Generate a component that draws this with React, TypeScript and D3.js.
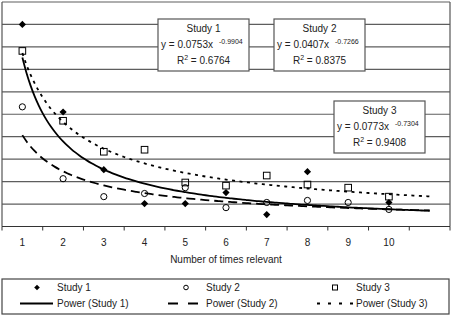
import React from "react";
import * as d3 from "d3";

// Category axis labels (11th slot is unlabeled)
const categories = ["1", "2", "3", "4", "5", "6", "7", "8", "9", "10", ""];

// Observed values per category (null = no observation)
const study1: (number | null)[] = [0.090, 0.051, 0.0253, 0.0102, 0.0102, 0.0151, 0.0053, 0.0244, null, 0.0107];
const study2: (number | null)[] = [0.0533, 0.0213, 0.0133, 0.0147, 0.0173, 0.0084, 0.0107, 0.0116, 0.0107, 0.0076];
const study3: (number | null)[] = [0.0782, 0.0471, 0.0333, 0.0342, 0.0196, 0.0182, 0.0227, 0.0187, 0.0173, 0.0133];

// Power trendlines y = a * x^b
const seriesNames = ["Study 1", "Study 2", "Study 3"];
const fitCoef = [0.0753, 0.0407, 0.0773];
const fitExp = [-0.9904, -0.7266, -0.7304];
const fitR2 = ["0.6764", "0.8375", "0.9408"];

const yGrid = d3.range(0, 11).map((i) => i * 0.01);

const W = 453;
const H = 316;
const FONT = "'Liberation Sans', Arial, sans-serif";

export default function App() {
  const plot = { left: 2, right: 450, top: 2, bottom: 226.5 };
  const n = categories.length;
  const x = d3.scaleLinear().domain([0.5, n + 0.5]).range([plot.left, plot.right]);
  const y = d3.scaleLinear().domain([0, 0.1]).range([plot.bottom, plot.top]);

  const line = d3
    .line<[number, number]>()
    .x((d) => x(d[0]))
    .y((d) => y(d[1]))
    .curve(d3.curveMonotoneX);

  const trend = (k: number) =>
    line(d3.range(1, n + 0.001, 0.1).map((v) => [v, fitCoef[k] * Math.pow(v, fitExp[k])] as [number, number])) || "";

  const dashes = [null, "9,5", "3,4.5"];

  const diamond = (cx: number, cy: number, r = 3.6) =>
    `M${cx},${cy - r}L${cx + r},${cy}L${cx},${cy + r}L${cx - r},${cy}Z`;

  const marker = (k: number, cx: number, cy: number, key: string) => {
    if (k === 0) return <path key={key} d={diamond(cx, cy)} fill="#000" />;
    if (k === 1)
      return <circle key={key} cx={cx} cy={cy} r={3.1} fill="none" stroke="#000" strokeWidth={1} />;
    return <rect key={key} x={cx - 3.3} y={cy - 3.3} width={6.6} height={6.6} fill="none" stroke="#000" strokeWidth={1} />;
  };

  const data = [study1, study2, study3];

  const boxes = [
    { x: 158, y: 19 },
    { x: 274, y: 19 },
    { x: 334, y: 101 },
  ];

  const legendCols = [
    { marker: 37, lineFrom: 20, lineTo: 53, text: 57 },
    { marker: 186, lineFrom: 168, lineTo: 198, text: 206 },
    { marker: 335, lineFrom: 317, lineTo: 353, text: 356 },
  ];

  return (
    <svg
      width={W}
      height={H}
      style={{ position: "absolute", left: 0, top: 0, background: "#fff" }}
      fontFamily={FONT}
    >
      <rect x={0} y={0} width={W} height={H} fill="#fff" />

      {/* gridlines */}
      {yGrid.map((v) => (
        <line key={v} x1={plot.left} x2={plot.right} y1={y(v)} y2={y(v)} stroke="#5e5e5e" strokeWidth={1.2} />
      ))}
      {/* plot frame */}
      <line x1={plot.left} x2={plot.left} y1={plot.top} y2={plot.bottom} stroke="#555" strokeWidth={1.2} />
      <line x1={plot.right} x2={plot.right} y1={plot.top} y2={plot.bottom} stroke="#555" strokeWidth={1.2} />

      {/* x axis */}
      <line x1={plot.left} x2={plot.right} y1={plot.bottom} y2={plot.bottom} stroke="#333" strokeWidth={1.2} />
      {d3.range(0, n + 1).map((i) => (
        <line
          key={"t" + i}
          x1={x(i + 0.5)}
          x2={x(i + 0.5)}
          y1={plot.bottom}
          y2={plot.bottom + 4}
          stroke="#333"
          strokeWidth={1}
        />
      ))}
      {categories.map((c, i) => (
        <text key={"c" + i} x={x(i + 1)} y={246} fontSize={10} textAnchor="middle" fill="#222">
          {c}
        </text>
      ))}
      <text x={x(6)} y={263} fontSize={10} textAnchor="middle" fill="#222">
        Number of times relevant
      </text>

      {/* trendlines */}
      {[0, 1, 2].map((k) => (
        <path
          key={"tr" + k}
          d={trend(k)}
          fill="none"
          stroke="#000"
          strokeWidth={1.8}
          strokeDasharray={dashes[k] || undefined}
        />
      ))}

      {/* points */}
      {data.map((arr, k) =>
        arr.map((v, i) => (v == null ? null : marker(k, x(i + 1), y(v), `p${k}-${i}`)))
      )}

      {/* equation boxes */}
      {boxes.map((b, k) => (
        <g key={"b" + k}>
          <rect x={b.x} y={b.y} width={91} height={52} fill="#fff" stroke="#555" strokeWidth={1.2} />
          <text x={b.x + 45.5} y={b.y + 13} fontSize={10} textAnchor="middle" fill="#222">
            {seriesNames[k]}
          </text>
          <text x={b.x + 3} y={b.y + 29} fontSize={10} fill="#222">
            {`y = ${fitCoef[k].toFixed(4)}x`}
            <tspan dx={6} dy={-4} fontSize={7}>
              {fitExp[k].toFixed(4)}
            </tspan>
          </text>
          <text x={b.x + 45.5} y={b.y + 45} fontSize={10} textAnchor="middle" fill="#222">
            R
            <tspan dy={-4} fontSize={7}>
              2
            </tspan>
            <tspan dy={4}>{` = ${fitR2[k]}`}</tspan>
          </text>
        </g>
      ))}

      {/* legend */}
      <rect x={2} y={279} width={447} height={35} fill="#fff" stroke="#444" strokeWidth={1.2} />
      {seriesNames.map((name, k) => {
        const c = legendCols[k];
        return (
          <g key={"l" + k}>
            {k === 0 ? (
              <path d={diamond(c.marker, 287.5, 2.8)} fill="#000" />
            ) : k === 1 ? (
              <circle cx={c.marker} cy={287.5} r={2.3} fill="none" stroke="#000" strokeWidth={1} />
            ) : (
              <rect x={c.marker - 2.5} y={285} width={5} height={5} fill="none" stroke="#000" strokeWidth={1} />
            )}
            <text x={c.text} y={291} fontSize={10} fill="#222">
              {name}
            </text>
            <line
              x1={c.lineFrom}
              x2={c.lineTo}
              y1={303.5}
              y2={303.5}
              stroke="#000"
              strokeWidth={1.8}
              strokeDasharray={k === 0 ? undefined : k === 1 ? "10,10" : "3,8"}
            />
            <text x={c.text} y={307} fontSize={10} fill="#222">
              {`Power (${name})`}
            </text>
          </g>
        );
      })}
    </svg>
  );
}
